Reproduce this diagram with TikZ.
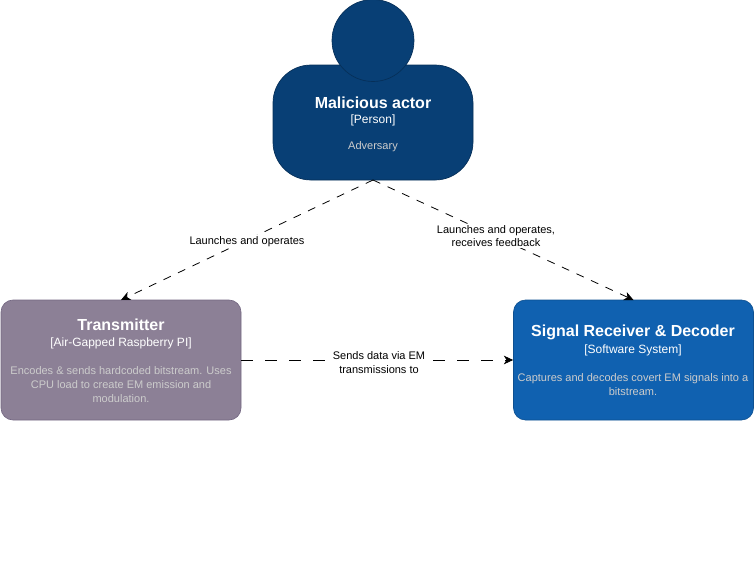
\documentclass[tikz,border=0pt]{standalone}
\usepackage{fontspec}
\setmainfont{Liberation Sans}
\usetikzlibrary{arrows.meta}
\newcommand{\ttl}[1]{{\fontsize{12pt}{14pt}\selectfont\bfseries\color{white}#1}}
\newcommand{\tagl}[1]{{\fontsize{9pt}{10pt}\selectfont\color{white}#1}}
\definecolor{personblue}{HTML}{083F75}
\definecolor{personedge}{HTML}{062F58}
\definecolor{txfill}{HTML}{8C8096}
\definecolor{txedge}{HTML}{736782}
\definecolor{rxfill}{HTML}{1061B0}
\definecolor{rxedge}{HTML}{0D5091}
\definecolor{desclight}{HTML}{CCCCCC}
\tikzset{
  x=0.75pt,y=-0.75pt,
  personbody/.style={draw=personedge,fill=personblue,rounded corners=28.5pt,line width=0.5pt,minimum width=150pt,minimum height=86.25pt,inner sep=0pt},
  personhead/.style={circle,draw=personedge,fill=personblue,line width=0.5pt,minimum size=61.5pt,inner sep=0pt},
  sysbox/.style={rounded corners=9pt,line width=0.5pt,minimum width=180pt,minimum height=90pt,inner sep=0pt},
  txbox/.style={sysbox,draw=txedge,fill=txfill},
  rxbox/.style={sysbox,draw=rxedge,fill=rxfill},
  boxtext/.style={align=center,inner sep=0pt,text=white},
  desc/.style={font=\fontsize{8.25pt}{10.5pt}\selectfont,text=desclight,align=center,inner sep=0pt},
  link/.style={draw=black,line width=0.6pt,dash pattern=on 6pt off 6pt,-{Stealth[length=7pt,width=6.5pt,inset=2pt]}},
  linkh/.style={draw=black,line width=0.6pt,dash pattern=on 9pt off 9pt,-{Stealth[length=7pt,width=6.5pt,inset=2pt]}},
  linklabel/.style={fill=white,font=\fontsize{8.25pt}{10pt}\selectfont,align=center,inner sep=1pt,text=black}
}
\begin{document}
\begin{tikzpicture}
\useasboundingbox (0,0) rectangle (754,582);
\node[personbody] (actor) at (373,122.5) {};
\node[personhead] (head) at (373,40.5) {};
\node[boxtext] (actortitle) at (373,102.5) {\ttl{Malicious actor}};
\node[boxtext] (actortag) at (373,120) {\tagl{[Person]}};
\node[desc] (actordesc) at (373,146.5) {Adversary};
\node[txbox] (tx) at (121,360) {};
\node[boxtext] (txtitle) at (121,324.5) {\ttl{Transmitter}};
\node[boxtext] (txtag) at (121,343) {\tagl{[Air-Gapped Raspberry PI]}};
\node[desc] (txdesc) at (121,385) {Encodes \& sends hardcoded bitstream. Uses\\CPU load to create EM emission and\\modulation.};
\node[rxbox] (rx) at (633.5,360) {};
\node[boxtext] (rxtitle) at (633,332.5) {\ttl{Signal Receiver \& Decoder}};
\node[boxtext] (rxtag) at (633,350) {\tagl{[Software System]}};
\node[desc] (rxdesc) at (633,385) {Captures and decodes covert EM signals into a\\bitstream.};
\coordinate (s) at (373,180);
\coordinate (t1) at (121,300);
\coordinate (t2) at (633.5,300);
\draw[link] (s) -- (t1);
\draw[link] (s) -- (t2);
\draw[linkh] (tx.east) -- (rx.west);
\node[linklabel] (l1) at (247,241.5) {Launches and operates};
\node[linklabel] (l2) at (496,236) {Launches and operates,\\receives feedback};
\node[linklabel] (l3) at (379,362.5) {Sends data via EM\\transmissions to};
\end{tikzpicture}
\end{document}
